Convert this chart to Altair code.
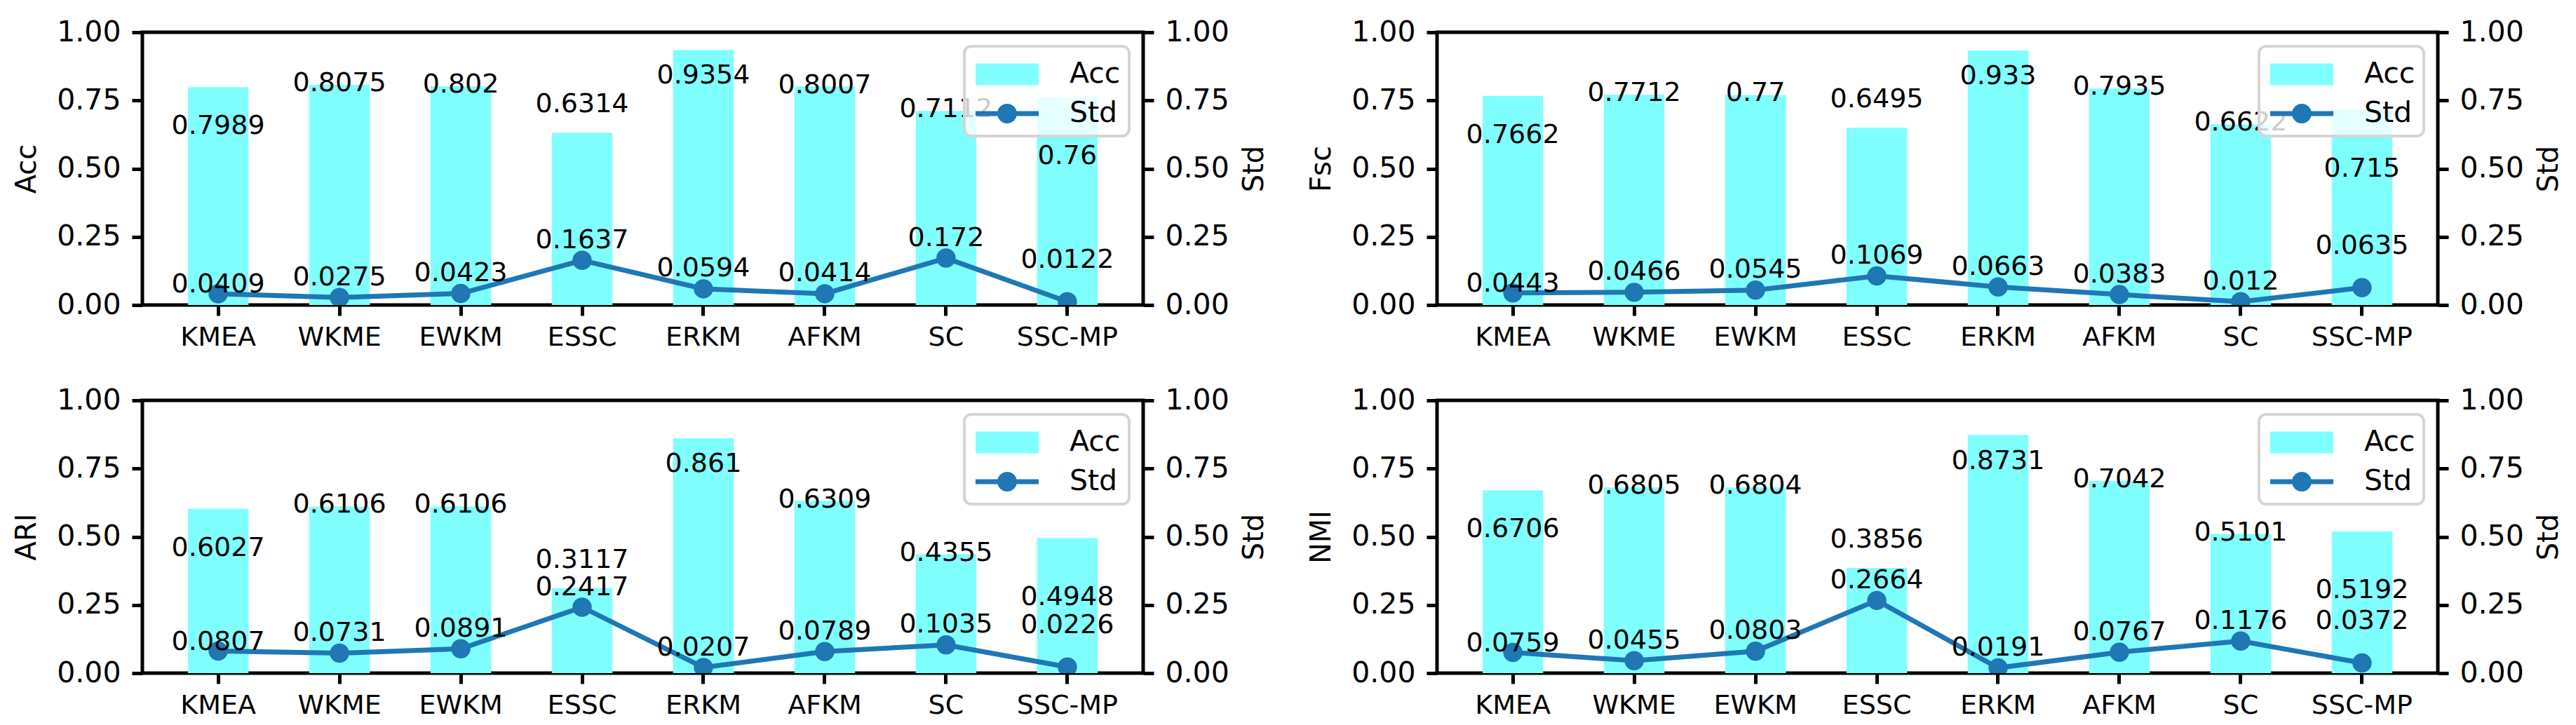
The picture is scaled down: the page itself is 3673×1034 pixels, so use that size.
import altair as alt
import pandas as pd

methods = ["KMEA", "WKME", "EWKM", "ESSC", "ERKM", "AFKM", "SC", "SSC-MP"]

acc_values = [0.7989, 0.8075, 0.802, 0.6314, 0.9354, 0.8007, 0.7112, 0.76]
acc_std = [0.0409, 0.0275, 0.0423, 0.1637, 0.0594, 0.0414, 0.172, 0.0122]

fsc_values = [0.7662, 0.7712, 0.77, 0.6495, 0.933, 0.7935, 0.6622, 0.715]
fsc_std = [0.0443, 0.0466, 0.0545, 0.1069, 0.0663, 0.0383, 0.012, 0.0635]

ari_values = [0.6027, 0.6106, 0.6106, 0.3117, 0.861, 0.6309, 0.4355, 0.4948]
ari_std = [0.0807, 0.0731, 0.0891, 0.2417, 0.0207, 0.0789, 0.1035, 0.0226]

nmi_values = [0.6706, 0.6805, 0.6804, 0.3856, 0.8731, 0.7042, 0.5101, 0.5192]
nmi_std = [0.0759, 0.0455, 0.0803, 0.2664, 0.0191, 0.0767, 0.1176, 0.0372]

# label anchors (value + shift, in axis units)
bar_label_shift = [-0.144, 0.006, 0.006, 0.103, -0.096, 0.005, 0.005, -0.216]
std_label_shift = [0.033, 0.073, 0.073, 0.073, 0.073, 0.073, 0.073, 0.153]

series_names = ["Acc", "Std"]

panels = [
    ("Acc", acc_values, acc_std),
    ("Fsc", fsc_values, fsc_std),
    ("ARI", ari_values, ari_std),
    ("NMI", nmi_values, nmi_std),
]

FONT = "DejaVu Sans"
CYAN = "#80ffff"
BLUE = "#1f77b4"
ticks = [0, 0.25, 0.5, 0.75, 1.0]

RECT_PATH = "M-0.857,-0.55H2.357V0.55H-0.857Z"
STD_PATH = ("M-0.857,-0.125H2.357V0.125H-0.857Z"
            "M1.25,0A0.5,0.5,0,1,1,0.25,0A0.5,0.5,0,1,1,1.25,0Z")

cscale = alt.Scale(domain=series_names, range=[CYAN, BLUE])
sscale = alt.Scale(domain=series_names, range=[RECT_PATH, STD_PATH])
legend = alt.Legend(title=None)


def panel(name, vals, stds):
    df = pd.DataFrame({
        "method": methods,
        "value": vals,
        "std": stds,
        "vpos": [v + s for v, s in zip(vals, bar_label_shift)],
        "spos": [v + s for v, s in zip(stds, std_label_shift)],
        "vtxt": [str(v) for v in vals],
        "stxt": [str(v) for v in stds],
    })
    x = alt.X("method:N", sort=methods,
              scale=alt.Scale(paddingInner=0.5, paddingOuter=0.375),
              axis=alt.Axis(title=None, labelAngle=0, labelFontSize=38))
    yscale = alt.Scale(domain=[0, 1], nice=False, zero=True)
    left_axis = alt.Axis(title=name, values=ticks, format=".2f", orient="left",
                         titlePadding=22)
    right_axis = alt.Axis(title="Std", values=ticks, format=".2f", orient="right",
                          titlePadding=16, titleAngle=270, titleBaseline="top")

    base = alt.Chart(df)
    key = base.transform_calculate(series="'Std'").transform_filter("false").mark_point(
        filled=True, opacity=1).encode(
        shape=alt.Shape("series:N", scale=sscale, legend=legend),
        color=alt.Color("series:N", scale=cscale, legend=legend),
    )
    bars = base.transform_calculate(series="'Acc'").mark_bar().encode(
        x=x,
        y=alt.Y("value:Q", scale=yscale, axis=left_axis),
        color=alt.Color("series:N", scale=cscale, legend=legend),
    )
    line = base.transform_calculate(series="'Std'").mark_line(
        strokeWidth=7, clip=True,
        point=alt.OverlayMarkDef(size=755, filled=True, opacity=1, clip=True),
    ).encode(
        x=x,
        y=alt.Y("std:Q", scale=yscale, axis=right_axis),
        color=alt.Color("series:N", scale=cscale, legend=legend),
    )
    bar_text = base.mark_text(fontSize=38, font=FONT, color="black",
                              baseline="middle", align="center").encode(
        x=x,
        y=alt.Y("vpos:Q", scale=yscale, axis=right_axis),
        text="vtxt:N",
    )
    std_text = base.mark_text(fontSize=38, font=FONT, color="black",
                              baseline="middle", align="center").encode(
        x=x,
        y=alt.Y("spos:Q", scale=yscale, axis=right_axis),
        text="stxt:N",
    )
    left = alt.layer(key, bars)
    right = alt.layer(line, bar_text, std_text)
    return alt.layer(left, right).resolve_scale(y="independent").properties(
        width=1427, height=389)


charts = [panel(*p) for p in panels]
row1 = alt.hconcat(charts[0], charts[1], spacing=51).resolve_scale(
    color="independent", shape="independent").resolve_legend(
    color="independent", shape="independent")
row2 = alt.hconcat(charts[2], charts[3], spacing=51).resolve_scale(
    color="independent", shape="independent").resolve_legend(
    color="independent", shape="independent")
chart = alt.vconcat(row1, row2, spacing=44).resolve_scale(
    color="independent", shape="independent").resolve_legend(
    color="independent", shape="independent")

chart = chart.properties(
    padding={"left": 8, "top": 14, "right": 5, "bottom": 5}
).configure(font=FONT).configure_view(
    stroke="black", strokeWidth=5
).configure_axis(
    labelFont=FONT, titleFont=FONT, labelFontSize=41, titleFontSize=40,
    titleFontWeight="normal", labelColor="black", titleColor="black",
    domain=False, ticks=True, tickSize=15, tickWidth=5, tickColor="black",
    grid=False, labelPadding=16,
).configure_axisX(labelPadding=12).configure_legend(
    orient="top-right", offset=20, labelFont=FONT, labelFontSize=41,
    labelColor="black", strokeColor="#d5d5d5", strokeWidth=4,
    fillColor="rgba(255,255,255,0.8)", cornerRadius=10, padding=12,
    symbolSize=3136, labelOffset=82, rowPadding=8, symbolStrokeWidth=0,
    symbolOpacity=1,
)

chart.save("out.html", embed_options={"renderer": "svg", "actions": False})
